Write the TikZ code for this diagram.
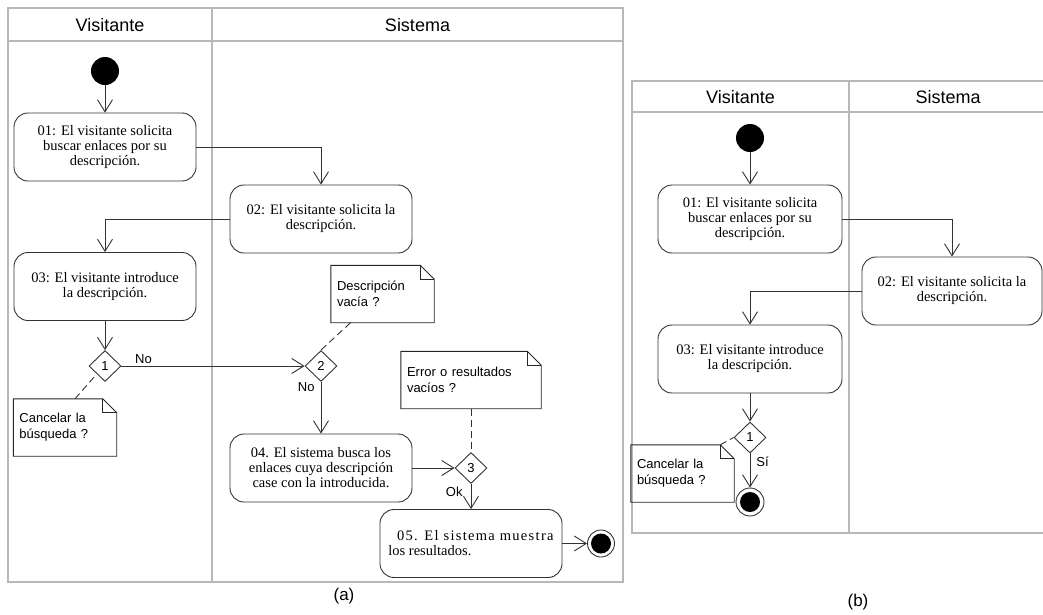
\documentclass[tikz,border=0pt]{standalone}
\usepackage{fontspec}
\setmainfont{Liberation Serif}
\setsansfont{Liberation Sans}
\usetikzlibrary{arrows.meta,shapes.geometric}
\def\notefold#1% dog-eared outline round a note node
    { \draw[notebd] (#1.south west) -- (#1.north west) -- ([xshift=-14pt]#1.north east)
        -- ([yshift=-14pt]#1.north east) -- (#1.south east) -- cycle;
      \draw[notebd] ([xshift=-14pt]#1.north east) |- ([yshift=-14pt]#1.north east); }

\begin{document}
\begin{tikzpicture}[x=1pt,y=-1pt,
    lane/.style={draw=black!28, line width=1.4pt},
    hdr/.style={font=\sffamily\fontsize{18}{20}\selectfont},
    act/.style={draw=black!80, line width=0.9pt, rounded corners=14pt, minimum width=182pt,
      minimum height=68pt, align=center, inner sep=2pt, font=\fontsize{14.5}{15}\selectfont},
    dec/.style={diamond, draw=black!80, line width=0.9pt, minimum width=32pt, minimum height=31pt,
      inner sep=0pt, font=\sffamily\fontsize{13}{14}\selectfont},
    initst/.style={circle, fill=black, minimum size=28pt, inner sep=0pt},
    finalst/.style={circle, draw=black!80, line width=0.9pt, minimum size=27pt, inner sep=0pt,
      path picture={\fill (path picture bounding box.center) circle (10pt);}},
    note/.style={inner xsep=6pt, inner ysep=3pt, align=left, minimum height=57pt,
      font=\sffamily\fontsize{13}{16}\selectfont},
    notebd/.style={draw=black!85, line width=0.9pt},
    flow/.style={draw=black!80, line width=0.9pt, -{Straight Barb[length=12pt,width=15pt]}},
    link/.style={draw=black!80, line width=0.9pt, dash pattern=on 7pt off 4pt},
    lbl/.style={font=\sffamily\fontsize{13}{14}\selectfont, inner sep=2pt},
    capt/.style={font=\sffamily\fontsize{17}{18}\selectfont}]
  \useasboundingbox (0,0) rectangle (1043,614);

  % (a) lanes
  \draw[lane] (8,8) rectangle (623,582);
  \draw[lane] (8,41) -- (623,41) (212,8) -- (212,582);
  \node[hdr] (hva) at (110,25) {Visitante};
  \node[hdr] (hsa) at (417.5,25) {Sistema};

  \node[initst] (s1) at (105,71) {};
  \node[act] (a1) at (105,147) {01: El visitante solicita\\buscar enlaces por su\\descripción.};
  \node[act] (a2) at (321,219) {02: El visitante solicita la\\descripción.};
  \node[act] (a3) at (105,286.5) {03: El visitante introduce\\la descripción.};
  \node[dec] (d1) at (105,366) {1};
  \node[dec] (d2) at (321,366) {2};
  \node[act] (a4) at (321,468) {04. El sistema busca los\\enlaces cuya descripción\\case con la introducida.};
  \node[dec] (d3) at (471,468) {3};
  \node[act, align=left] (a5) at (471,543.5)
    {\hspace*{0.6em}{\addfontfeature{LetterSpace=9}05. El sistema muestra}\\los resultados.};
  \node[finalst] (e1) at (601,543.5) {};

  \node[note, text width=91pt] (n1) at (65,427.5) {Cancelar la\\búsqueda ?};
  \node[note, text width=91pt] (n2) at (382.5,294) {Descripción\\vacía ?};
  \node[note, text width=128pt] (n3) at (471,380) {Error o resultados\\vacíos ?};
  \notefold{n1} \notefold{n2} \notefold{n3}

  \draw[flow] (s1) -- (a1);
  \draw[flow] (a1.east) -| (a2.north);
  \draw[flow] (a2.west) -| (a3.north);
  \draw[flow] (a3) -- (d1);
  \draw[flow] (d1.east) -- node[lbl, pos=0.12, above] {No} (d2.west);
  \draw[flow] (d2.south) -- node[lbl, pos=0.1, left, xshift=-4pt] {No} (a4.north);
  \draw[flow] (a4.east) -- (d3.west);
  \draw[flow] (d3.south) -- node[lbl, pos=0.3, left, xshift=-6pt] {Ok} (a5.north);
  \draw[flow] (a5.east) -- (e1);
  \draw[link] ([xshift=10pt]n1.north) -- (d1.south west);
  \draw[link] ([xshift=-32pt]n2.south) -- (d2.north);
  \draw[link] (n3.south) -- (d3.north);

  \node[capt] (ca) at (344,596) {(a)};

  % (b) lanes
  \draw[lane] (1043,81) -- (632,81) -- (632,533) -- (1043,533);
  \draw[lane] (632,112) -- (1043,112) (849,81) -- (849,533);
  \node[hdr] (hvb) at (740.5,97) {Visitante};
  \node[hdr] (hsb) at (948,97) {Sistema};

  \node[initst] (s2) at (750,138) {};
  \node[act, minimum width=184pt] (b1) at (750,219) {01: El visitante solicita\\buscar enlaces por su\\descripción.};
  \node[act, minimum width=180pt] (b2) at (952,291) {02: El visitante solicita la\\descripción.};
  \node[act, minimum width=184pt] (b3) at (750,359) {03: El visitante introduce\\la descripción.};
  \node[dec] (d4) at (750,437.5) {1};
  \node[finalst, minimum size=28pt] (e2) at (750,502) {};
  \node[note, text width=91pt] (n4) at (682.5,473.5) {Cancelar la\\búsqueda ?};
  \notefold{n4}

  \draw[flow] (s2) -- (b1);
  \draw[flow] (b1.east) -| (b2.north);
  \draw[flow] (b2.west) -| (b3.north);
  \draw[flow] (b3) -- (d4);
  \draw[flow] (d4.south) -- node[lbl, pos=0.25, right, xshift=4pt] {Sí} (e2.north);
  \draw[link] ([xshift=-14pt]n4.north east) -- (d4.west);

  \node[capt] (cb) at (858,602) {(b)};
\end{tikzpicture}
\end{document}
